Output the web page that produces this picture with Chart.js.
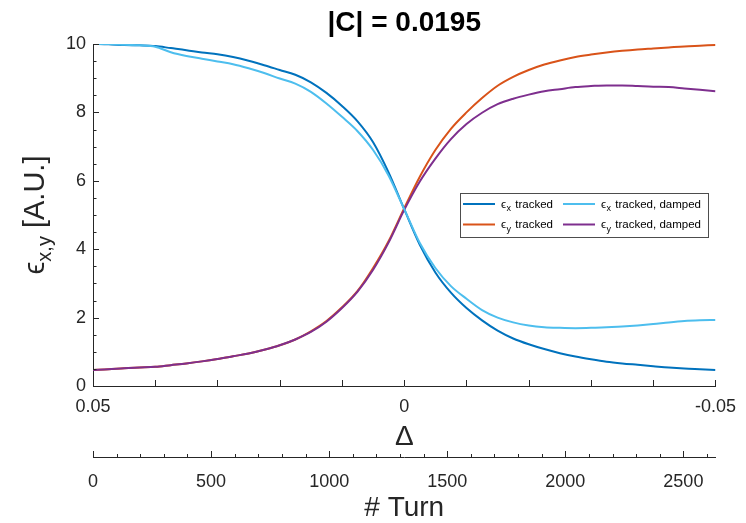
<!DOCTYPE html>
<html>
<head>
<meta charset="utf-8">
<script src="https://cdn.jsdelivr.net/npm/chart.js@4.4.1/dist/chart.umd.min.js"></script>
<style>
html,body{margin:0;padding:0;background:#fff;}
#wrap{width:746px;height:523px;}
</style>
</head>
<body>
<div id="wrap"><canvas id="c" width="746" height="523"></canvas></div>
<script>
// ---- data ----
const delta = [0.05,0.0475,0.045,0.0425,0.04,0.0375,0.035,0.0325,0.03,0.0275,0.025,0.0225,0.02,0.0175,0.015,0.0125,0.01,0.0075,0.005,0.0025,0,
  -0.0025,-0.005,-0.0075,-0.01,-0.0125,-0.015,-0.0175,-0.02,-0.0225,-0.025,-0.0275,-0.03,-0.0325,-0.035,-0.0375,-0.04,-0.0425,-0.045,-0.0475,-0.05];
const epsXTracked = [10.0,9.99,9.97,9.96,9.94,9.88,9.82,9.75,9.70,9.62,9.51,9.38,9.24,9.1,8.88,8.57,8.19,7.74,7.13,6.24,5.17,
  4.13,3.32,2.73,2.28,1.92,1.62,1.39,1.22,1.08,0.96,0.86,0.78,0.71,0.66,0.62,0.58,0.54,0.51,0.49,0.47];
const epsYTracked = [0.47,0.49,0.52,0.54,0.56,0.61,0.66,0.72,0.79,0.87,0.95,1.06,1.19,1.36,1.6,1.9,2.3,2.78,3.45,4.24,5.2,
  6.12,6.9,7.52,8.0,8.42,8.78,9.04,9.24,9.4,9.52,9.62,9.69,9.75,9.80,9.84,9.87,9.90,9.93,9.95,9.97];
const epsXDamped = [10.0,10.0,9.98,9.96,9.92,9.76,9.65,9.57,9.49,9.41,9.29,9.15,8.99,8.84,8.6,8.26,7.87,7.45,6.9,6.15,5.17,
  4.18,3.45,2.92,2.55,2.22,2.0,1.86,1.77,1.72,1.70,1.69,1.70,1.72,1.74,1.77,1.81,1.86,1.90,1.92,1.93];
const epsYDamped = [0.47,0.49,0.52,0.54,0.56,0.61,0.66,0.72,0.79,0.87,0.95,1.06,1.19,1.36,1.58,1.88,2.28,2.76,3.4,4.2,5.15,
  5.98,6.65,7.22,7.66,7.99,8.24,8.40,8.52,8.62,8.68,8.74,8.77,8.79,8.79,8.77,8.75,8.74,8.70,8.66,8.62];

const deltaTicks = [0.05, 0, -0.05];
const deltaTickLabels = ['0.05', '0', '-0.05'];
const yTicks = [0, 2, 4, 6, 8, 10];
const turnTicks = [0, 500, 1000, 1500, 2000, 2500];
const turnMax = 2636;
const titleText = '|C| = 0.0195';
const seriesNames = ['tracked', 'tracked', 'tracked, damped', 'tracked, damped'];
const seriesSubs = ['x', 'y', 'x', 'y'];

// ---- styles ----
const FONT = '"Liberation Sans", Arial, Helvetica, sans-serif';
const AXIS = '#262626';
const COLORS = ['#0072BD', '#D95319', '#4DBEEE', '#7E2F8E'];

Chart.defaults.font.family = FONT;
Chart.defaults.color = AXIS;

function pts(ys) { return delta.map((d, i) => ({x: d, y: ys[i]})); }

const decor = {
  id: 'decor',
  afterDraw(chart) {
    const ctx = chart.ctx, a = chart.chartArea;
    const xs = chart.scales.x, ys = chart.scales.y, ts = chart.scales.turn;
    ctx.save();
    // inward ticks
    ctx.strokeStyle = AXIS; ctx.lineWidth = 1;
    ctx.beginPath();
    for (let k = 0; k <= 20; k++) {
      const y = Math.round(ys.getPixelForValue(k * 0.5)) + 0.5;
      const len = (k % 4 === 0) ? 6 : 3.5;
      ctx.moveTo(a.left, y); ctx.lineTo(a.left + len, y);
    }
    for (let k = -5; k <= 5; k++) {
      const x = Math.round(xs.getPixelForValue(k * 0.01)) + 0.5;
      ctx.moveTo(x, a.bottom); ctx.lineTo(x, a.bottom - 6);
    }
    const tTop = ts.top;
    for (let v = 0; v <= 2600; v += 100) {
      const x = Math.round(ts.getPixelForValue(v)) + 0.5;
      const len = (v % 500 === 0) ? 6 : 3;
      ctx.moveTo(x, tTop); ctx.lineTo(x, tTop - len);
    }
    ctx.stroke();

    // y-axis label with subscript
    ctx.save();
    ctx.fillStyle = AXIS;
    ctx.textBaseline = 'alphabetic';
    const big = '29px ' + FONT, sub = '20px ' + FONT;
    const parts = [['\u03F5', big, 0], ['x,y', sub, 7], [' [A.U.]', big, 0]];
    let W = 0;
    parts.forEach(p => { ctx.font = p[1]; W += ctx.measureText(p[0]).width; });
    ctx.translate(44, (a.top + a.bottom) / 2);
    ctx.rotate(-Math.PI / 2);
    let x = -W / 2;
    parts.forEach(p => { ctx.font = p[1]; ctx.fillText(p[0], x, p[2]); x += ctx.measureText(p[0]).width; });
    ctx.restore();

    // legend
    const lx = 460.5, ly = 193.5, lw = 248, lh = 44;
    ctx.fillStyle = '#fff';
    ctx.fillRect(lx, ly, lw, lh);
    ctx.strokeStyle = '#4d4d4d'; ctx.lineWidth = 1;
    ctx.strokeRect(lx, ly, lw, lh);
    const cols = [463, 563], rows = [204, 224.5];
    for (let i = 0; i < 4; i++) {
      const cx = cols[i < 2 ? 0 : 1], cy = rows[i % 2];
      ctx.strokeStyle = COLORS[i]; ctx.lineWidth = 2;
      ctx.beginPath(); ctx.moveTo(cx, cy); ctx.lineTo(cx + 32, cy); ctx.stroke();
      ctx.fillStyle = '#000';
      let tx = cx + 38; const base = cy + 3.5;
      ctx.font = '11.5px ' + FONT; ctx.fillText('\u03F5', tx, base); tx += ctx.measureText('\u03F5').width + 0.5;
      ctx.font = '9px ' + FONT; ctx.fillText(seriesSubs[i], tx, base + 3.5); tx += ctx.measureText(seriesSubs[i]).width + 1;
      ctx.font = '11.5px ' + FONT; ctx.fillText(' ' + seriesNames[i], tx, base);
    }
    ctx.restore();
  }
};

const ds = [
  {data: pts(epsXTracked), borderColor: COLORS[0], order: 1},
  {data: pts(epsYTracked), borderColor: COLORS[1], order: 1},
  {data: pts(epsXDamped), borderColor: COLORS[2], order: 0},
  {data: pts(epsYDamped), borderColor: COLORS[3], order: 0}
].map(d => Object.assign(d, {borderWidth: 2, pointRadius: 0, fill: false, cubicInterpolationMode: 'monotone', xAxisID: 'x', yAxisID: 'y'}));

new Chart(document.getElementById('c'), {
  type: 'line',
  data: {datasets: ds},
  options: {
    responsive: false,
    animation: false,
    devicePixelRatio: 1,
    layout: {padding: {top: 0, right: 28, left: 0, bottom: 0}},
    plugins: {
      legend: {display: false},
      tooltip: {enabled: false},
      title: {
        display: true, text: titleText, fullSize: false, color: '#000',
        font: {size: 28, weight: 'bold', lineHeight: 1.2},
        padding: {top: 6, bottom: 4.4}
      }
    },
    scales: {
      x: {
        type: 'linear', position: 'bottom', reverse: true, min: -0.05, max: 0.05, weight: 0,
        grid: {display: false, drawTicks: false},
        border: {display: true, color: AXIS, width: 1},
        afterBuildTicks: s => { s.ticks = deltaTicks.map(v => ({value: v})); },
        afterFit: s => { s.height = 71; },
        ticks: {font: {size: 18}, padding: 10, maxRotation: 0, color: AXIS,
          callback: (v, i) => deltaTickLabels[i]},
        title: {display: true, text: '\u0394', color: AXIS, font: {size: 28, lineHeight: 1}, padding: {top: 0, bottom: 6}}
      },
      turn: {
        type: 'linear', position: 'bottom', min: 0, max: turnMax, weight: 1,
        grid: {display: false, drawTicks: false},
        border: {display: true, color: AXIS, width: 1},
        afterBuildTicks: s => { s.ticks = turnTicks.map(v => ({value: v})); },
        afterFit: s => { s.height = 66; },
        ticks: {font: {size: 18}, padding: 14, maxRotation: 0, color: AXIS,
          callback: v => String(v)},
        title: {display: true, text: '# Turn', color: AXIS, font: {size: 28, lineHeight: 1}, padding: {top: 0, bottom: 1}}
      },
      y: {
        type: 'linear', position: 'left', min: 0, max: 10,
        grid: {display: false, drawTicks: false},
        border: {display: true, color: AXIS, width: 1},
        afterBuildTicks: s => { s.ticks = yTicks.map(v => ({value: v})); },
        afterFit: s => { s.width = 93; },
        ticks: {font: {size: 18}, padding: 7, color: AXIS, callback: v => String(v)}
      }
    }
  },
  plugins: [decor]
});
</script>
</body>
</html>
